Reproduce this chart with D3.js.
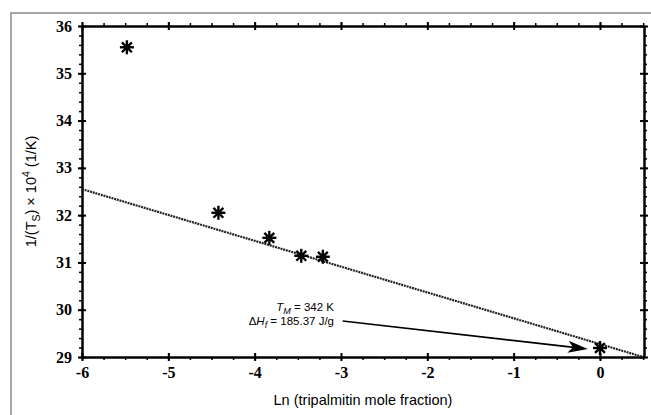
<!DOCTYPE html>
<html lang="en">
<head>
    <title>Melting point depression</title>
    <script src="https://d3js.org/d3.v7.min.js"></script>
    <style>
        body { margin: 0; background: #fff; }
        .axis path, .axis line { stroke: #000; }
    </style>
</head>
<body>
<script>
    // measured points: ln(mole fraction) vs 1/Ts x 10^4
    const lnX = [-5.48, -4.42, -3.83, -3.46, -3.21, 0];
    const invT = [35.55, 32.05, 31.52, 31.14, 31.12, 29.19];
    // fitted line end points
    const fitX = [-6, 0.5];
    const fitY = [32.55, 29.0];
    const xTicks = [-6, -5, -4, -3, -2, -1, 0];
    const yTicks = [29, 30, 31, 32, 33, 34, 35, 36];
    // arrow from label to the pure tripalmitin point
    const arrowX = [-2.98, -0.14];
    const arrowY = [29.76, 29.17];

    const W = 651, H = 415;
    const mLeft = 82, mRight = 644, mTop = 26, mBottom = 357;

    const x = d3.scaleLinear().domain([-6, 0.51]).range([mLeft, mRight]);
    const y = d3.scaleLinear().domain([29, 36]).range([mBottom, mTop]);

    const svg = d3.select("body").append("svg").attr("width", W).attr("height", H);

    // outer frame of the figure
    svg.append("path")
        .attr("d", `M11,${H} L11,13 L${W},13`)
        .attr("fill", "none").attr("stroke", "#8a8a8a").attr("stroke-width", 1.5);

    const xMinor = d3.range(-6, 0.51, 0.25);
    const yMinor = d3.range(29, 36.01, 0.2);
    const fmt = d => String(d);

    function labelStyle(g) {
        g.attr("font-family", null).attr("font-size", null);
        g.selectAll(".tick text")
            .style("font-family", "'Liberation Serif', 'Times New Roman', serif")
            .style("font-weight", "bold")
            .style("font-size", "16px")
            .attr("fill", "#000");
    }

    // bottom
    svg.append("g").attr("class", "axis").attr("transform", `translate(0,${mBottom})`)
        .call(d3.axisBottom(x).tickValues(xMinor).tickSize(3).tickFormat("").tickSizeOuter(0))
        .call(g => g.select(".domain").attr("stroke-width", 2.5))
        .call(g => g.selectAll(".tick line").attr("stroke-width", 1.5));
    svg.append("g").attr("class", "axis").attr("transform", `translate(0,${mBottom})`)
        .call(d3.axisBottom(x).tickValues(xTicks).tickFormat(fmt).tickSize(4).tickSizeOuter(0).tickPadding(6))
        .call(g => g.select(".domain").remove())
        .call(g => g.selectAll(".tick line").attr("y1", -4).attr("stroke-width", 2))
        .call(labelStyle);

    // top
    svg.append("g").attr("class", "axis").attr("transform", `translate(0,${mTop})`)
        .call(d3.axisTop(x).tickValues(xMinor).tickSize(3).tickFormat("").tickSizeOuter(0))
        .call(g => g.select(".domain").attr("stroke-width", 2.5))
        .call(g => g.selectAll(".tick line").attr("stroke-width", 1.5));
    svg.append("g").attr("class", "axis").attr("transform", `translate(0,${mTop})`)
        .call(d3.axisTop(x).tickValues(xTicks).tickSize(4).tickFormat("").tickSizeOuter(0))
        .call(g => g.select(".domain").remove())
        .call(g => g.selectAll(".tick line").attr("y1", 4).attr("stroke-width", 2));

    // left
    svg.append("g").attr("class", "axis").attr("transform", `translate(${mLeft},0)`)
        .call(d3.axisLeft(y).tickValues(yMinor).tickSize(3).tickFormat("").tickSizeOuter(0))
        .call(g => g.select(".domain").attr("stroke-width", 2.5))
        .call(g => g.selectAll(".tick line").attr("stroke-width", 1.5));
    svg.append("g").attr("class", "axis").attr("transform", `translate(${mLeft},0)`)
        .call(d3.axisLeft(y).tickValues(yTicks).tickFormat(fmt).tickSize(4).tickSizeOuter(0).tickPadding(6))
        .call(g => g.select(".domain").remove())
        .call(g => g.selectAll(".tick line").attr("x1", 4).attr("stroke-width", 2))
        .call(labelStyle);

    // right
    svg.append("g").attr("class", "axis").attr("transform", `translate(${mRight},0)`)
        .call(d3.axisRight(y).tickValues(yMinor).tickSize(3).tickFormat("").tickSizeOuter(0))
        .call(g => g.select(".domain").attr("stroke-width", 2.5))
        .call(g => g.selectAll(".tick line").attr("stroke-width", 1.5));
    svg.append("g").attr("class", "axis").attr("transform", `translate(${mRight},0)`)
        .call(d3.axisRight(y).tickValues(yTicks).tickSize(4).tickFormat("").tickSizeOuter(0))
        .call(g => g.select(".domain").remove())
        .call(g => g.selectAll(".tick line").attr("x1", -4).attr("stroke-width", 2));

    // fit line
    svg.append("line")
        .attr("x1", x(fitX[0])).attr("y1", y(fitY[0]))
        .attr("x2", x(fitX[1])).attr("y2", y(fitY[1]))
        .attr("stroke", "#222").attr("stroke-width", 2.2)
        .attr("stroke-dasharray", "2,0.8");

    // asterisk markers
    const star = svg.append("g").selectAll("g")
        .data(lnX.map((d, i) => [d, invT[i]]))
        .join("g")
        .attr("transform", d => `translate(${x(d[0])},${y(d[1])})`);
    [0, 45, 90, 135].forEach(a => {
        star.append("line")
            .attr("x1", -7).attr("x2", 7)
            .attr("transform", `rotate(${a})`)
            .attr("stroke", "#000").attr("stroke-width", 2.4);
    });
    star.append("circle").attr("r", 2.8).attr("fill", "#000");

    // arrow
    const ax0 = x(arrowX[0]), ay0 = y(arrowY[0]), ax1 = x(arrowX[1]), ay1 = y(arrowY[1]);
    const ang = Math.atan2(ay1 - ay0, ax1 - ax0) * 180 / Math.PI;
    svg.append("line")
        .attr("x1", ax0).attr("y1", ay0).attr("x2", ax1 - 14 * Math.cos(ang * Math.PI / 180))
        .attr("y2", ay1 - 14 * Math.sin(ang * Math.PI / 180))
        .attr("stroke", "#000").attr("stroke-width", 1.6);
    svg.append("path")
        .attr("d", "M0,0 L-20,-6 L-15,0 L-20,6 Z")
        .attr("transform", `translate(${ax1},${ay1}) rotate(${ang})`)
        .attr("fill", "#000");

    // annotation
    const note = svg.append("g")
        .attr("font-family", "Liberation Sans, Arial, sans-serif")
        .attr("font-size", 11.5)
        .attr("text-anchor", "end");
    const t1 = note.append("text").attr("x", 334).attr("y", 311);
    t1.append("tspan").attr("font-style", "italic").text("T");
    t1.append("tspan").attr("font-style", "italic").attr("font-size", 9).attr("dy", 3).text("M");
    t1.append("tspan").attr("dy", -3).text(" = 342 K");
    const t2 = note.append("text").attr("x", 334).attr("y", 325);
    t2.append("tspan").text("Δ");
    t2.append("tspan").attr("font-style", "italic").text("H");
    t2.append("tspan").attr("font-style", "italic").attr("font-size", 9).attr("dy", 3).text("f");
    t2.append("tspan").attr("dy", -3).text(" = 185.37 J/g");

    // axis titles
    svg.append("text")
        .attr("x", (mLeft + mRight) / 2).attr("y", 405)
        .attr("text-anchor", "middle")
        .attr("font-family", "Liberation Sans, Arial, sans-serif").attr("font-size", 14.5)
        .text("Ln (tripalmitin mole fraction)");

    const yl = svg.append("text")
        .attr("transform", `translate(36,${(mTop + mBottom) / 2}) rotate(-90)`)
        .attr("text-anchor", "middle")
        .attr("font-family", "Liberation Sans, Arial, sans-serif").attr("font-size", 14.5);
    yl.append("tspan").text("1/(T");
    yl.append("tspan").attr("font-size", 10.5).attr("dy", 4).text("S");
    yl.append("tspan").attr("dy", -4).text(") × 10");
    yl.append("tspan").attr("font-size", 10.5).attr("dy", -6).text("4");
    yl.append("tspan").attr("dy", 6).text(" (1/K)");
</script>
</body>
</html>
